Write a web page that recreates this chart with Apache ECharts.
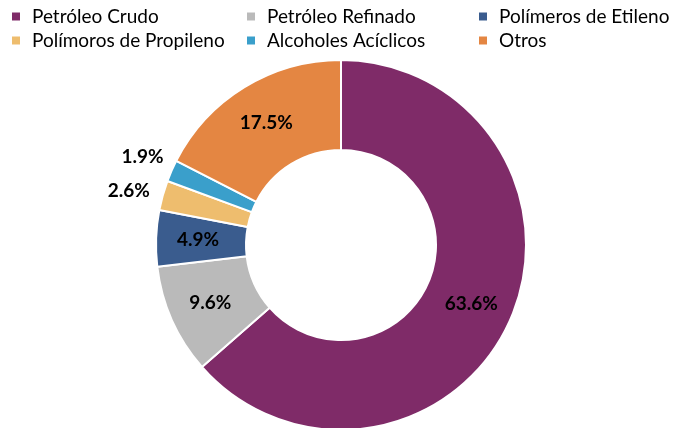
<!DOCTYPE html>
<html lang="es">
<head>
    <meta charset="UTF-8">
    <title>Exportaciones</title>
    <script src="https://cdn.jsdelivr.net/npm/echarts@6/dist/echarts.min.js"></script>
</head>
<body style="margin:0">
<div id="main" style="width: 678px;height:428px;"></div>
<script type="text/javascript">
    var names = ['Petróleo Crudo', 'Petróleo Refinado', 'Polímeros de Etileno', 'Polímoros de Propileno', 'Alcoholes Acíclicos', 'Otros'];
    var values = [63.6, 9.6, 4.9, 2.6, 1.9, 17.5];
    var colors = ['#7F2B68', '#BABABA', '#3A5C8E', '#EEBD6E', '#3A9FCB', '#E48642'];
    // las porciones pequeñas llevan la etiqueta por fuera, algo desplazada como en el original
    var outsideShift = {
        'Polímoros de Propileno': { dx: -8, dy: -5 },
        'Alcoholes Acíclicos': { dx: -3, dy: -14 }
    };

    var myChart = echarts.init(document.getElementById('main'));

    var data = [];
    for (var i = 0; i < names.length; i++) {
        var item = { name: names[i], value: values[i], itemStyle: { color: colors[i] } };
        if (outsideShift[names[i]]) {
            item.label = { position: 'outside' };
            item.labelLine = { show: false, length: 0, length2: 0 };
        }
        data.push(item);
    }

    function legendCol(left, items) {
        return {
            orient: 'vertical',
            left: left,
            top: 7,
            padding: 0,
            itemGap: 5,
            itemWidth: 8,
            itemHeight: 8,
            itemStyle: { borderWidth: 0 },
            icon: 'rect',
            textStyle: { fontFamily: 'Lato', fontSize: 19, color: '#000', padding: [0, 0, 0, 7] },
            data: items
        };
    }

    var option = {
        backgroundColor: '#fff',
        legend: [
            legendCol(12, [names[0], names[3]]),
            legendCol(247, [names[1], names[4]]),
            legendCol(479, [names[2], names[5]])
        ],
        series: [{
            type: 'pie',
            radius: [95, 185],
            center: [341, 245],
            startAngle: 90,
            clockwise: true,
            avoidLabelOverlap: false,
            animation: false,
            itemStyle: { borderColor: '#fff', borderWidth: 2 },
            label: {
                show: true,
                position: 'inside',
                formatter: function (p) { return p.value.toFixed(1) + '%'; },
                fontFamily: 'Lato',
                fontWeight: 'bold',
                fontSize: 19,
                color: '#000'
            },
            labelLayout: function (p) {
                return outsideShift[names[p.dataIndex]] || {};
            },
            data: data
        }]
    };

    myChart.setOption(option);
</script>
</body>
</html>
